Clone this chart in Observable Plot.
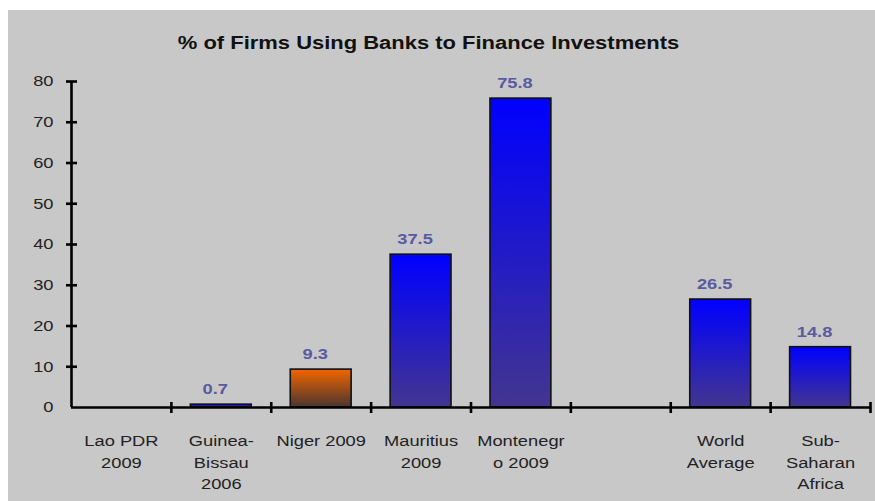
<!DOCTYPE html>
<html>
<head>
<meta charset="utf-8">
<script src="https://cdn.jsdelivr.net/npm/d3@7"></script>
<script src="https://cdn.jsdelivr.net/npm/@observablehq/plot@0.6"></script>
<style>
  html, body { margin: 0; padding: 0; background: #ffffff; }
  #wrap { position: relative; width: 875px; height: 501px; overflow: hidden; font-family: "Liberation Sans", Arial, sans-serif; }
  #panel { position: absolute; left: 8px; top: 10px; width: 867px; height: 491px; background: #c8c8c8; }
  #title { position: absolute; left: 0; top: 33px; width: 857px; text-align: center; font-size: 18px; line-height: 20px; font-weight: bold; color: #111; }
  #title span { display: inline-block; transform: scaleX(1.22); }
  #chart { position: absolute; left: 0; top: 64px; }
</style>
</head>
<body>
<div id="wrap">
  <div id="panel"></div>
  <div id="title"><span>% of Firms Using Banks to Finance Investments</span></div>
  <div id="chart"></div>
</div>
<script>
// ---- data ----
const categories = ["Lao PDR\n2009", "Guinea-\nBissau\n2006", "Niger 2009", "Mauritius\n2009", "Montenegr\no 2009", "", "World\nAverage", "Sub-\nSaharan\nAfrica"];
const values = [null, 0.7, 9.3, 37.5, 75.8, null, 26.5, 14.8];
const yTicks = [0, 10, 20, 30, 40, 50, 60, 70, 80];
const highlight = "Niger 2009";

const rows = categories.map((label, i) => ({label, i, value: values[i]}));
const bars = rows.filter(d => d.value != null);
const slotEdges = d3.range(1, categories.length + 1);

const hLine = {draw(ctx, size) { const r = Math.sqrt(size / Math.PI); ctx.moveTo(-r, 0); ctx.lineTo(r, 0); }};
const vLine = {draw(ctx, size) { const r = Math.sqrt(size / Math.PI); ctx.moveTo(0, -r); ctx.lineTo(0, r); }};

const stretch = 1.22;
const font = "'Liberation Sans', Arial, sans-serif";

const svg = Plot.plot({
  width: 875,
  height: 437,
  marginTop: 17,
  marginBottom: 94,
  marginLeft: 71,
  marginRight: 5,
  style: {background: "transparent", fontFamily: font, overflow: "visible"},
  x: {type: "linear", domain: [0, categories.length], axis: null},
  y: {domain: [0, 80], axis: null},
  marks: [
    Plot.rectY(bars.filter(d => d.label !== highlight), {
      x1: "i", x2: d => d.i + 1, y1: 0, y2: "value",
      insetLeft: 19.5, insetRight: 19.5,
      fill: "url(#gradBlue)", stroke: "#111", strokeWidth: 1.6
    }),
    Plot.rectY(bars.filter(d => d.label === highlight), {
      x1: "i", x2: d => d.i + 1, y1: 0, y2: "value",
      insetLeft: 19.5, insetRight: 19.5,
      fill: "url(#gradOrange)", stroke: "#111", strokeWidth: 1.6
    }),
    Plot.ruleY([0], {x1: 0, x2: categories.length, stroke: "#000", strokeWidth: 2.6}),
    Plot.ruleX([0], {y1: 0, y2: 80, stroke: "#000", strokeWidth: 2.6}),
    Plot.dot(yTicks.filter(d => d > 0), {x: 0, y: d => d, symbol: hLine, r: 5.5, fill: "none", stroke: "#000", strokeWidth: 2.6}),
    Plot.dot(slotEdges, {x: d => d, y: 0, symbol: vLine, r: 5.5, fill: "none", stroke: "#000", strokeWidth: 2.6}),
    Plot.text(yTicks, {x: 0, y: d => d, text: d => String(d), dx: -18, textAnchor: "end", fontSize: 15, fill: "#222"}),
    Plot.text(rows, {x: d => d.i + 0.5, y: 0, text: "label", dy: 23, lineAnchor: "top", lineHeight: 1.45, fontSize: 15, fill: "#222"}),
    Plot.text(bars, {x: d => d.i + 0.5, y: "value", text: d => d.value.toFixed(1), dy: -15, dx: -6, fontSize: 15, fontWeight: "bold", fill: "#5a5aa0"})
  ]
});

// gradients for bar fills
const defs = d3.select(svg).insert("defs", ":first-child");
function grad(id, top, bottom) {
  const g = defs.append("linearGradient").attr("id", id).attr("x1", 0).attr("y1", 0).attr("x2", 0).attr("y2", 1);
  g.append("stop").attr("offset", "0%").attr("stop-color", top);
  g.append("stop").attr("offset", "100%").attr("stop-color", bottom);
}
grad("gradBlue", "#0000ff", "#43358f");
grad("gradOrange", "#f26500", "#4a3530");

// the reference text is horizontally stretched
d3.select(svg).selectAll("text").each(function() {
  const t = this.getAttribute("transform");
  if (t) this.setAttribute("transform", t + ` scale(${stretch},1)`);
  else {
    const x = +(this.getAttribute("x") || 0), y = +(this.getAttribute("y") || 0);
    this.setAttribute("transform", `translate(${x},${y}) scale(${stretch},1) translate(${-x},${-y})`);
  }
});

document.getElementById("chart").appendChild(svg);
</script>
</body>
</html>
